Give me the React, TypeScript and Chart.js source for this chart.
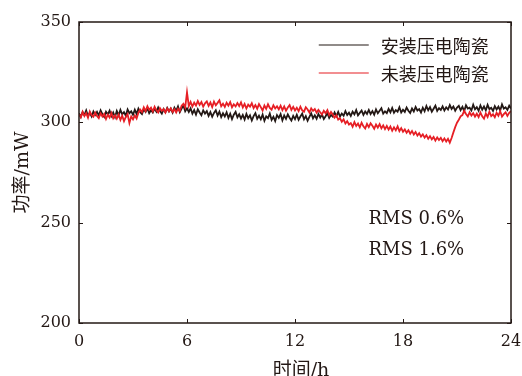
import React, { useEffect, useRef } from "react";
import { Chart, registerables } from "chart.js";

Chart.register(...registerables);

// Sampling step of the recordings (hours)
const STEP_H = 0.1;

const X_TICKS = [0, 6, 12, 18, 24];
const Y_TICKS = [200, 250, 300, 350];

const SERIES_NAMES = ["安装压电陶瓷", "未装压电陶瓷"];
const RMS_LABELS = ["RMS 0.6%", "RMS 1.6%"];
const X_TITLE = "时间/h";
const Y_TITLE = "功率/mW";

// 安装压电陶瓷 (black), power in mW, every 0.1 h from 0 to 24 h
const WITH_PZT = [
  304.5, 302.8, 305.1, 303.6, 305.9, 303.2, 304.8, 302.9, 305.4, 303.7, 305.2,
  303.4, 306.0, 304.1, 302.7, 305.3, 303.9, 305.8, 303.1, 304.9, 302.6,
  305.7, 303.5, 306.2, 304.0, 305.1, 303.3, 306.4, 304.6, 305.5, 303.8,
  306.3, 304.2, 306.8, 305.0, 304.1, 306.5, 305.2, 307.1, 304.6, 306.0,
  304.9, 306.9, 305.3, 307.4, 305.6, 304.3, 306.6, 305.0, 307.2, 305.4,
  306.8, 304.8, 307.3, 305.7, 307.9, 305.1, 306.9, 308.4, 305.5, 307.0,
  305.2, 307.0, 304.3, 306.1, 303.8, 306.5, 304.9, 303.5, 306.0, 304.4,
  305.6, 303.2, 305.1, 302.8, 304.7, 306.0, 303.4, 305.3, 302.6, 304.5,
  302.9, 305.0, 302.2, 304.3, 301.6, 303.8, 305.2, 302.5, 304.0, 301.9,
  303.7, 301.4, 304.2, 302.0, 303.5, 300.9, 303.1, 304.6, 301.8, 303.3,
  301.5, 303.9, 300.8, 303.0, 302.1, 304.4, 301.2, 302.8, 300.6, 303.6,
  302.2, 304.1, 301.0, 303.4, 301.7, 304.0, 302.3, 300.9, 303.2, 301.6,
  303.8, 301.3, 302.9, 304.3, 301.5, 303.1, 300.8, 302.7, 304.5, 302.0,
  303.5, 301.8, 304.2, 302.4, 303.9, 301.6, 303.0, 304.6, 302.2, 303.7,
  302.8, 304.9, 303.1, 305.2, 302.9, 304.4, 303.3, 305.6, 303.6, 304.8,
  303.2, 305.3, 304.0, 306.1, 303.5, 304.7, 305.9, 303.7, 305.4, 304.2,
  306.2, 304.1, 305.6, 303.8, 306.4, 304.5, 305.8, 307.0, 304.3, 305.5,
  304.6, 306.7, 305.0, 307.2, 304.8, 306.1, 305.3, 307.5, 304.9, 306.3,
  305.2, 307.4, 305.8, 304.7, 306.9, 305.4, 307.7, 305.9, 306.6, 304.9,
  307.3, 305.5, 308.1, 306.0, 307.6, 305.3, 306.8, 308.3, 305.7, 307.1,
  306.2, 308.0, 305.9, 307.5, 306.4, 308.6, 306.7, 307.9, 305.8, 307.4,
  308.2, 306.1, 307.7, 305.6, 308.5, 306.9, 307.3, 305.9, 308.8, 306.5,
  307.6, 305.8, 308.4, 306.3, 307.9, 306.0, 308.7, 306.6, 307.2, 305.7,
  308.1, 306.4, 307.8, 305.9, 308.9, 306.8, 307.5, 306.2, 308.3, 306.9,
];

// 未装压电陶瓷 (red), power in mW, every 0.1 h from 0 to 24 h
const WITHOUT_PZT = [
  304.0, 302.5, 305.2, 303.1, 304.6, 302.3, 305.4, 303.6, 302.8, 304.9, 303.2,
  302.1, 304.5, 302.9, 304.2, 301.7, 303.8, 302.4, 304.7, 302.0, 303.5,
  301.8, 303.9, 301.2, 303.3, 300.6, 302.7, 304.1, 299.6, 302.9, 301.5,
  303.4, 301.9, 304.8, 306.3, 305.1, 307.5, 305.6, 308.0, 306.2, 307.3,
  305.4, 307.8, 306.0, 304.9, 307.1, 305.7, 306.6, 304.8, 306.9, 305.5,
  307.0, 305.2, 306.5, 304.9, 306.8, 305.6, 308.3, 309.2, 307.4, 315.0,
  308.1, 310.2, 307.9, 309.8, 308.4, 310.6, 308.7, 310.1, 307.8, 309.5,
  310.4, 308.2, 309.9, 307.6, 310.3, 308.5, 309.7, 311.0, 308.0, 309.3,
  307.7, 309.8, 308.3, 310.1, 307.5, 309.0, 307.9, 309.6, 308.1, 310.0,
  307.4, 309.2, 306.9, 308.8, 307.8, 309.5, 307.1, 308.6, 306.8, 309.1,
  307.6, 305.9, 308.4, 306.7, 309.0, 307.2, 306.3, 308.5, 306.9, 308.0,
  306.5, 308.3, 306.1, 307.9, 305.8, 307.4, 308.6, 306.2, 307.7, 305.9,
  307.3, 305.6, 307.8, 306.0, 305.3, 307.5, 306.4, 304.9, 307.0, 305.7,
  306.6, 304.8, 306.2, 305.0, 303.9, 305.8, 304.5, 306.1, 303.6, 305.2,
  303.9, 302.3, 303.5, 301.4, 302.0, 300.3, 301.5, 299.4, 300.6, 298.9,
  299.6, 297.8, 300.1, 298.2, 299.4, 297.5, 299.8, 298.0, 296.9, 299.2,
  297.6, 299.5, 298.3, 296.8, 298.9, 297.4, 299.1, 297.0, 298.5, 296.6,
  298.2, 296.4, 297.9, 295.8, 297.5, 296.0, 298.0, 295.6, 297.1, 295.3,
  296.5, 294.8, 296.1, 294.3, 295.7, 293.9, 295.2, 293.4, 294.6, 292.9,
  294.0, 292.4, 293.6, 291.8, 293.1, 291.5, 292.7, 290.9, 292.5, 291.2,
  292.3, 290.6, 292.0, 290.4, 291.8, 289.9, 292.2, 295.0, 297.6, 299.8,
  301.3, 303.0, 303.6, 305.8, 304.2, 302.9, 305.0, 303.4, 304.6, 302.8,
  304.3, 302.6, 304.9, 303.0, 301.8, 304.4, 302.7, 305.3, 303.1, 304.0,
  302.5, 304.8, 303.3, 305.5, 302.9, 304.1, 305.0, 303.2, 304.7, 305.6,
];

const COLORS = ["#231815", "#e61f25"];
const FRAME = "#231815";
const SERIF = "'DejaVu Serif', 'Noto Sans CJK SC', serif";
const CJK = "'Noto Sans CJK SC', 'DejaVu Serif', sans-serif";

const toPoints = (vals: number[]) => vals.map((v, i) => ({ x: +(i * STEP_H).toFixed(2), y: v }));

const decorPlugin = {
  id: "decor",
  afterDraw(chart: any) {
    const { ctx, chartArea } = chart;
    const { left, right, top, bottom } = chartArea;
    const xs = chart.scales.x;
    const ys = chart.scales.y;
    ctx.save();
    // frame
    ctx.strokeStyle = FRAME;
    ctx.lineWidth = 1.5;
    ctx.strokeRect(left, top, right - left, bottom - top);
    // inward ticks
    ctx.lineWidth = 1;
    const tl = 4;
    ctx.beginPath();
    X_TICKS.forEach((t) => {
      const px = Math.round(xs.getPixelForValue(t)) + 0.5;
      ctx.moveTo(px, bottom);
      ctx.lineTo(px, bottom - tl);
      ctx.moveTo(px, top);
      ctx.lineTo(px, top + tl);
    });
    Y_TICKS.forEach((t) => {
      const py = Math.round(ys.getPixelForValue(t)) + 0.5;
      ctx.moveTo(left, py);
      ctx.lineTo(left + tl, py);
      ctx.moveTo(right, py);
      ctx.lineTo(right - tl, py);
    });
    ctx.stroke();

    // legend
    ctx.textBaseline = "middle";
    ctx.textAlign = "left";
    ctx.font = `18px ${CJK}`;
    const legX = left + (right - left) * 0.555;
    const legY = [top + 23, top + 51];
    SERIES_NAMES.forEach((name, i) => {
      ctx.strokeStyle = COLORS[i];
      ctx.lineWidth = 1.2;
      ctx.beginPath();
      ctx.moveTo(legX, legY[i]);
      ctx.lineTo(legX + 50, legY[i]);
      ctx.stroke();
      ctx.fillStyle = "#231815";
      ctx.fillText(name, legX + 62, legY[i] + 1);
    });

    // RMS annotations
    ctx.font = `18px ${SERIF}`;
    ctx.fillStyle = "#231815";
    const rmsX = left + (right - left) * 0.67;
    RMS_LABELS.forEach((txt, i) => {
      ctx.fillText(txt, rmsX, top + 197 + i * 31);
    });

    // axis titles
    ctx.textAlign = "center";
    ctx.font = `19px ${SERIF}`;
    ctx.fillText(X_TITLE, (left + right) / 2 + 6, bottom + 48);
    ctx.translate(23, (top + bottom) / 2);
    ctx.rotate(-Math.PI / 2);
    ctx.fillText(Y_TITLE, 0, 0);
    ctx.restore();
  },
};

export default function App() {
  const ref = useRef<HTMLCanvasElement | null>(null);
  useEffect(() => {
    if (!ref.current) return;
    const chart = new Chart(ref.current, {
      type: "line",
      data: {
        datasets: [
          {
            label: SERIES_NAMES[0],
            data: toPoints(WITH_PZT),
            borderColor: COLORS[0],
            backgroundColor: COLORS[0],
            borderWidth: 1.8,
            pointRadius: 0,
            tension: 0,
            order: 2,
          },
          {
            label: SERIES_NAMES[1],
            data: toPoints(WITHOUT_PZT),
            borderColor: COLORS[1],
            backgroundColor: COLORS[1],
            borderWidth: 1.8,
            pointRadius: 0,
            tension: 0,
            order: 1,
          },
        ],
      },
      options: {
        responsive: false,
        animation: false,
        devicePixelRatio: 1,
        layout: { padding: { left: 0, right: 11, top: 22, bottom: 0 } },
        plugins: { legend: { display: false }, tooltip: { enabled: false } },
        scales: {
          x: {
            type: "linear",
            min: 0,
            max: 24,
            afterBuildTicks: (s: any) => {
              s.ticks = X_TICKS.map((v) => ({ value: v }));
            },
            afterFit: (s: any) => {
              s.height = 53;
              s.paddingLeft = 0;
              s.paddingRight = 0;
            },
            grid: { display: false, drawTicks: false },
            border: { display: false },
            ticks: {
              padding: 9,
              color: "#231815",
              font: { family: SERIF, size: 16 },
              maxRotation: 0,
            },
          },
          y: {
            type: "linear",
            min: 200,
            max: 350,
            afterBuildTicks: (s: any) => {
              s.ticks = Y_TICKS.map((v) => ({ value: v }));
            },
            afterFit: (s: any) => {
              s.width = 79;
              s.paddingTop = 0;
              s.paddingBottom = 0;
            },
            grid: { display: false, drawTicks: false },
            border: { display: false },
            ticks: {
              padding: 8,
              color: "#231815",
              font: { family: SERIF, size: 16 },
            },
          },
        },
      },
      plugins: [decorPlugin],
    });
    return () => chart.destroy();
  }, []);
  return (
    <div style={{ position: "fixed", left: 0, top: 0, width: 522, height: 376, background: "#fff" }}>
      <canvas ref={ref} width={522} height={376} />
    </div>
  );
}
